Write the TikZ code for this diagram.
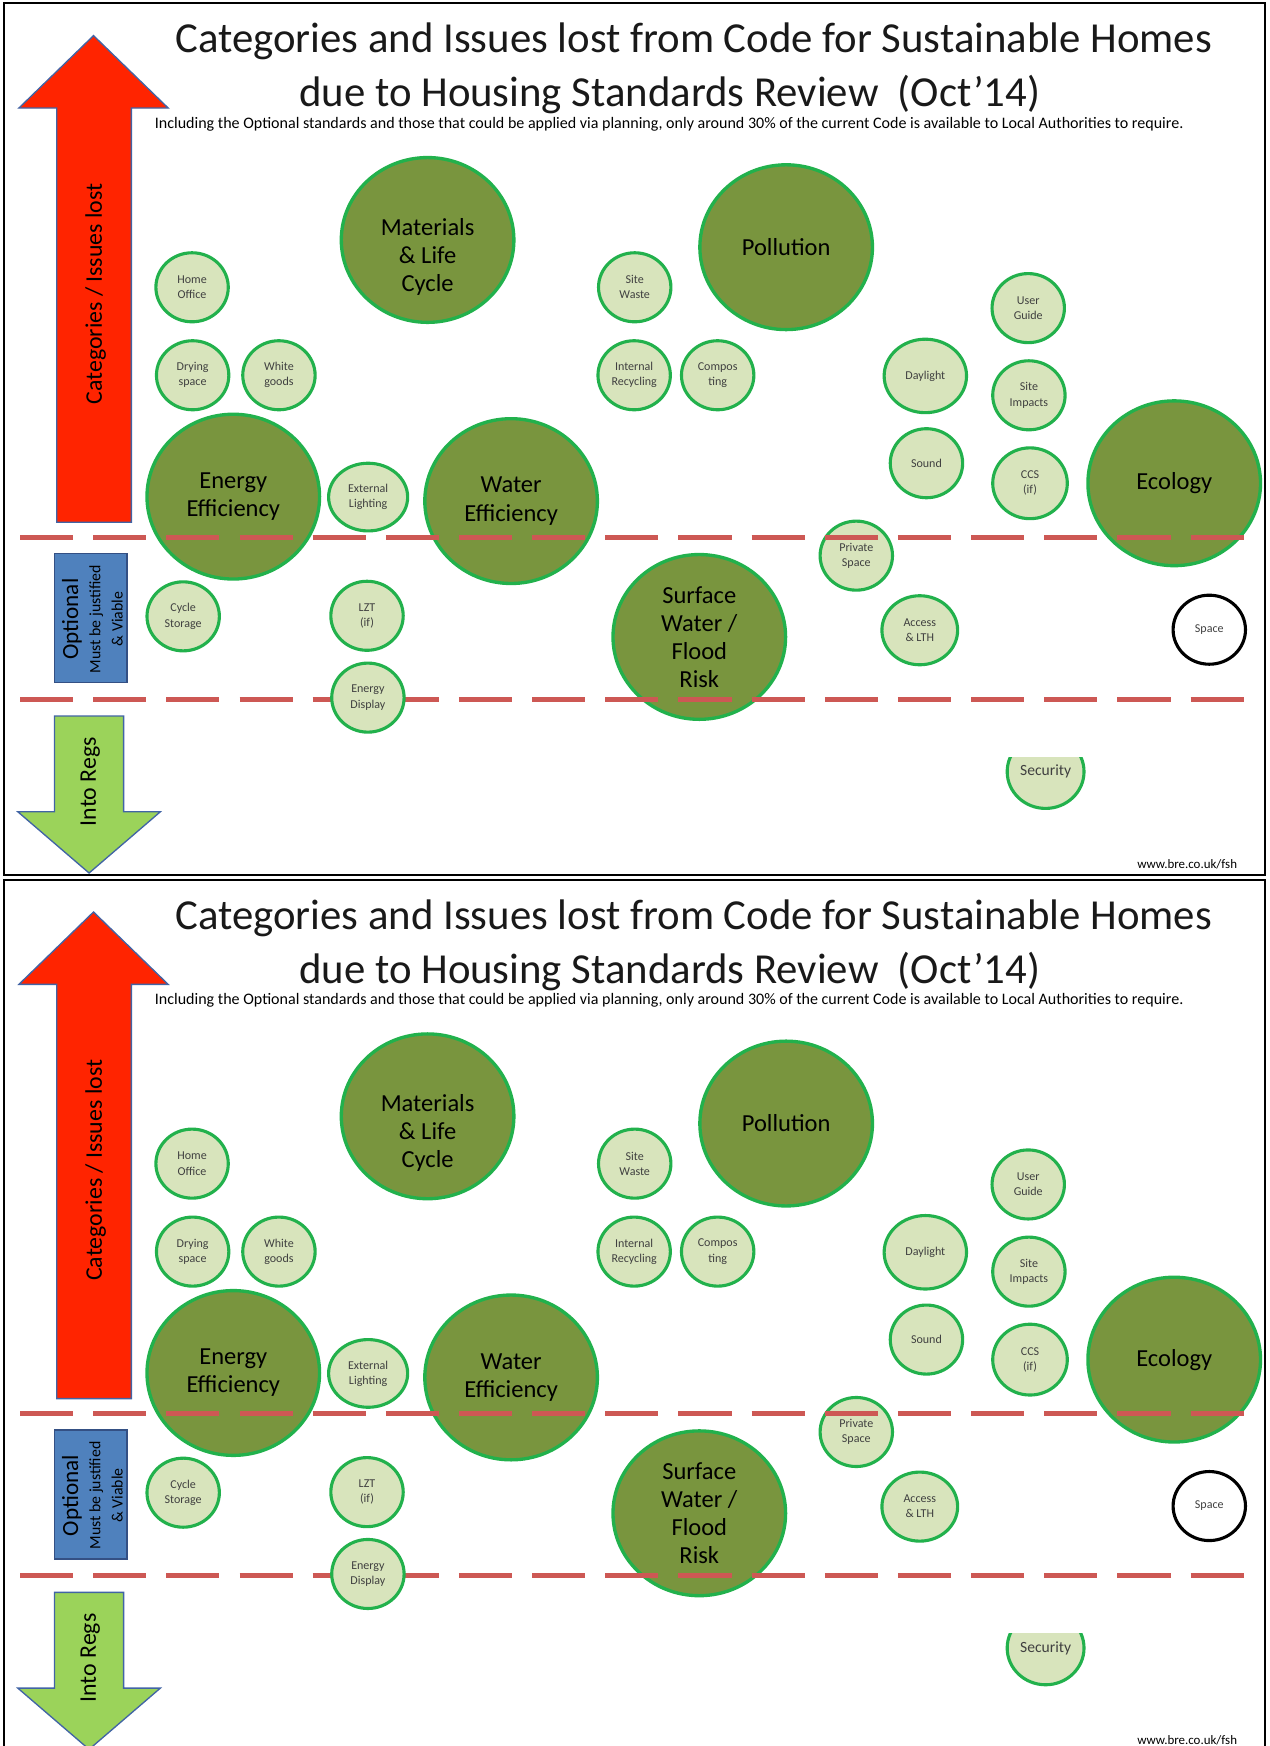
\documentclass[tikz,border=0pt]{standalone}
\usepackage{fontspec}
\setmainfont{Carlito}
\usetikzlibrary{shapes.geometric}

\definecolor{catfill}{RGB}{121,149,62}
\definecolor{issfill}{RGB}{216,228,188}
\definecolor{ringgreen}{RGB}{34,177,76}
\definecolor{cutred}{RGB}{205,88,84}
\definecolor{lostred}{RGB}{255,36,0}
\definecolor{optblue}{RGB}{79,129,189}
\definecolor{regsgreen}{RGB}{155,211,90}
\definecolor{edgeblue}{RGB}{65,100,165}

\begin{document}
\begin{tikzpicture}[
  x=0.5pt, y=-0.5pt,
  cat/.style={ellipse, draw=ringgreen, line width=1.5pt, fill=catfill,
    minimum width=77.5pt, minimum height=74pt, inner sep=0pt, align=center,
    font=\fontsize{11}{12.6}\selectfont},
  cattxt/.style={align=center, font=\fontsize{11}{12.6}\selectfont},
  iss/.style={ellipse, draw=ringgreen, line width=1.4pt, fill=issfill,
    minimum width=32.5pt, minimum height=31pt, inner sep=0pt, align=center,
    font=\fontsize{5.4}{6.8}\selectfont, text=black!75},
  cut/.style={draw=cutred, line width=2.3pt, dash pattern=on 23.85pt off 9pt},
  arrowshape/.style={draw=edgeblue, line width=0.6pt},
  sidetxt/.style={rotate=90, font=\fontsize{10.7}{12}\selectfont},
  panel/.style={draw=black, line width=1pt},
  heading/.style={anchor=base, font=\fontsize{19.2}{21}\selectfont, text=black!90},
]
\clip (0,0) rectangle (1140,1568);
\fill[white] (0,0) rectangle (1140,1568);
\foreach \p/\dy in {1/0, 2/787} {
\begin{scope}[shift={(0,\dy)}]
\draw[panel] (3.5,3) rectangle (1136,786);
% heading
\node[heading] (ttl\p) at (623,47.5)
  {Categories and Issues lost from Code for Sustainable Homes};
\node[heading] (sub\p) at (601.5,96)
  {due to Housing Standards Review\ \ (Oct’14)};
\node[anchor=base, font=\fontsize{7.2}{8}\selectfont] (note\p) at (601,115)
  {Including the Optional standards and those that could be applied via planning, only around 30\% of the current Code is available to Local Authorities to require.};
% side arrows
\draw[arrowshape, fill=lostred] (84,32) -- (151,97) -- (118,97) -- (118,469)
  -- (51,469) -- (51,97) -- (17,97) -- cycle;
\node[sidetxt] (lost\p) at (86,264) {Categories / Issues lost};
\draw[draw=edgeblue!80!black, line width=0.8pt, fill=optblue] (49,497) rectangle (114,613);
\node[rotate=90, align=center, font=\fontsize{7.1}{10}\selectfont] (opt\p) at (83,556)
  {{\fontsize{10.4}{10}\selectfont Optional}\\Must be justified\\\& Viable};
\draw[arrowshape, fill=regsgreen] (49,643) -- (111,643) -- (111,729) -- (144,729)
  -- (80,784) -- (16,729) -- (49,729) -- cycle;
\node[sidetxt] (regs\p) at (81,702) {Into Regs};
% categories
\node[cat] (mat\p) at (384,215.5) {};
\node[cattxt] (matT\p) at (384,230.5) {Materials\\\& Life\\Cycle};
\node[cat] (pol\p) at (706,222) {Pollution};
\node[cat] (ene\p) at (209.5,446) {Energy\\Efficiency};
\node[cat] (wat\p) at (459,450) {Water\\Efficiency};
\node[cat] (eco\p) at (1054.5,434) {Ecology};
\node[cat] (sur\p) at (628,572) {Surface\\Water /\\Flood\\Risk};
% issues
\node[iss] (home\p) at (172.5,258) {Home\\Office};
\node[iss] (dry\p) at (173,337) {Drying\\space};
\node[iss] (white\p) at (250.5,337) {White\\goods};
\node[iss, minimum width=35.5pt, minimum height=30.4pt] (ext\p) at (330.6,446.4) {External\\Lighting};
\node[iss] (cyc\p) at (164.5,553.5) {Cycle\\Storage};
\node[iss] (lzt\p) at (329.6,553) {LZT\\(if)};
\node[iss] (swaste\p) at (570,258) {Site\\Waste};
\node[iss] (recy\p) at (569.5,337) {Internal\\Recycling};
\node[iss] (comp\p) at (644.5,337) {Compos\\ting};
\node[iss, minimum width=37pt, minimum height=33pt] (day\p) at (831,337.6) {Daylight};
\node[iss] (guide\p) at (923.4,276.7) {User\\Guide};
\node[iss] (simp\p) at (924,355) {Site\\Impacts};
\node[iss] (snd\p) at (832,416) {Sound};
\node[iss, minimum width=33.5pt, minimum height=31.8pt] (ccs\p) at (925,434) {CCS\\(if)};
\node[iss] (priv\p) at (769,499) {Private\\Space};
\node[iss, minimum width=34pt] (acc\p) at (826,566) {Access\\\& LTH};
\node[iss, draw=black, fill=white] (space\p) at (1086,565.5) {Space};
\begin{scope}
  \clip (880,680) rectangle (1000,740);
  \node[iss, font=\fontsize{7}{8}\selectfont, minimum width=34.5pt, minimum height=33pt]
    (sec\p) at (939,693) {Security};
\end{scope}
% split lines
\draw[cut] (18,482.5) -- (1118,482.5);
\draw[cut] (18,628) -- (1118,628);
\node[iss] (edisp\p) at (330.4,626.5) {Energy\\Display};
\node[anchor=east, font=\fontsize{5.8}{7}\selectfont] (web\p) at (1118,776) {www.bre.co.uk/fsh};
\end{scope}
}
\end{tikzpicture}
\end{document}
